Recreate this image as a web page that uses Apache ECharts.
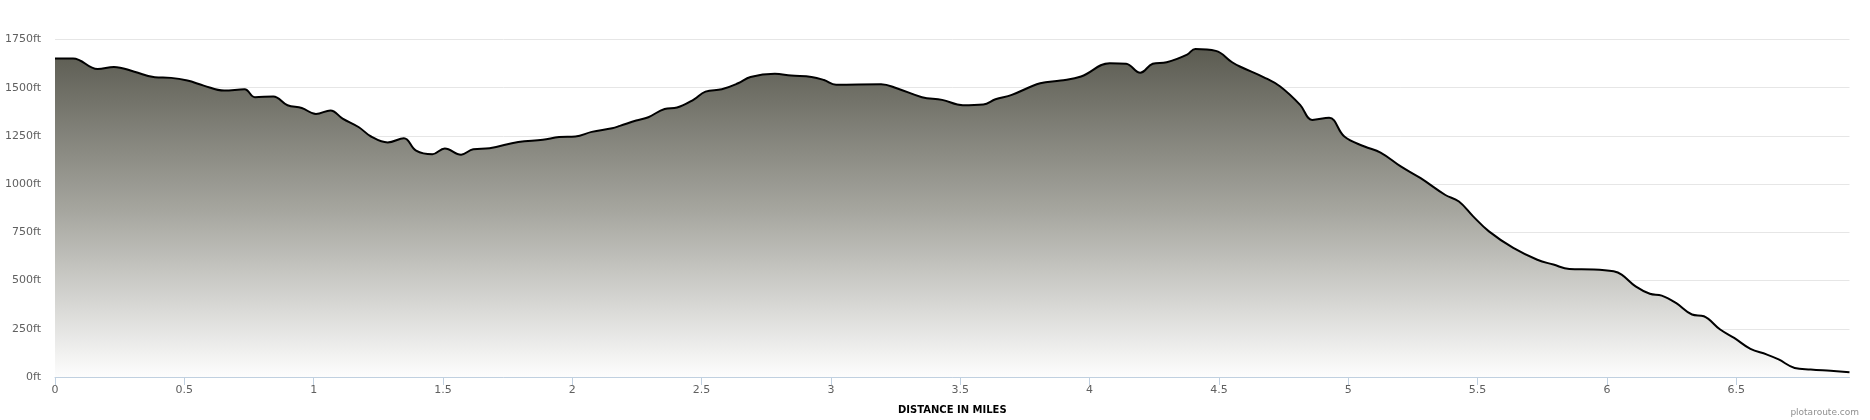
<!DOCTYPE html>
<html>
<head>
<meta charset="utf-8">
<script src="https://cdn.jsdelivr.net/npm/echarts@6/dist/echarts.min.js"></script>
<style>
html,body{margin:0;padding:0;background:#fff;}
#c{width:1870px;height:420px;}
</style>
</head>
<body>
<div id="c"></div>
<script>
var distances = [0.000,0.070,0.165,0.228,0.307,0.386,0.449,0.512,0.575,0.654,0.733,0.773,0.844,0.899,0.954,1.009,1.065,1.112,1.175,1.222,1.286,1.349,1.396,1.459,1.507,1.570,1.617,1.680,1.791,1.886,1.949,2.012,2.075,2.154,2.184,2.247,2.294,2.357,2.405,2.468,2.515,2.578,2.641,2.689,2.783,2.846,2.925,2.973,3.020,3.194,3.257,3.352,3.430,3.510,3.589,3.636,3.699,3.809,3.888,3.967,4.078,4.141,4.196,4.244,4.298,4.377,4.409,4.488,4.551,4.581,4.674,4.737,4.814,4.861,4.926,4.985,5.063,5.125,5.203,5.280,5.374,5.428,5.483,5.544,5.638,5.731,5.793,5.855,5.949,6.026,6.057,6.111,6.166,6.212,6.267,6.329,6.375,6.438,6.492,6.555,6.617,6.664,6.726,6.788,6.865,6.938];
var elevations = [1652,1652,1597,1608,1583,1554,1551,1537,1511,1485,1492,1451,1455,1409,1395,1364,1382,1340,1295,1247,1216,1238,1174,1155,1185,1153,1181,1186,1219,1230,1244,1247,1271,1290,1302,1330,1347,1390,1397,1437,1480,1492,1523,1556,1572,1563,1556,1540,1516,1518,1496,1451,1437,1409,1413,1440,1463,1523,1537,1558,1627,1624,1578,1624,1632,1672,1701,1691,1632,1610,1554,1506,1411,1333,1344,1247,1195,1164,1092,1031,945,910,833,755,669,608,583,560,558,548,531,470,432,422,384,324,315,246,203,146,117,91,47,39,32,25];
var xTicks = [0,0.5,1,1.5,2,2.5,3,3.5,4,4.5,5,5.5,6,6.5];
var yTicks = [0,250,500,750,1000,1250,1500,1750];
var xTitle = 'DISTANCE IN MILES';
var credit = 'plotaroute.com';

var points = distances.map(function(d,i){return [d, elevations[i]];});

var chart = echarts.init(document.getElementById('c'), null, {renderer:'canvas'});
chart.setOption({
  animation:false,
  backgroundColor:'#ffffff',
  grid:{left:55, right:20.5, top:39.5, bottom:42.5, containLabel:false},
  xAxis:{
    type:'value', min:0, max:distances[distances.length-1], interval:0.5,
    name:xTitle, nameLocation:'middle', nameGap:28,
    nameTextStyle:{fontFamily:'DejaVu Sans', fontSize:10, fontWeight:'bold', color:'#000'},
    axisLine:{show:true, lineStyle:{color:'#C0D0E0', width:1}},
    axisTick:{show:true, length:8, lineStyle:{color:'#C0D0E0'}, customValues:xTicks},
    axisLabel:{color:'#606060', fontFamily:'DejaVu Sans', fontSize:11, margin:8, customValues:xTicks},
    splitLine:{show:false}
  },
  yAxis:{
    type:'value', min:yTicks[0], max:yTicks[yTicks.length-1], interval:250,
    axisLine:{show:false}, axisTick:{show:false},
    axisLabel:{color:'#606060', fontFamily:'DejaVu Sans', fontSize:11, margin:14,
      formatter:function(v){return v+'ft';}},
    splitLine:{show:true, lineStyle:{color:'#e6e6e6', width:1}}
  },
  graphic:[{type:'text', right:11, bottom:3, style:{text:credit, fill:'#909090', font:'9px "DejaVu Sans"'}}],
  series:[{
    type:'line', data:points, smooth:0.4, showSymbol:false, symbol:'none',
    lineStyle:{color:'#000', width:2},
    areaStyle:{opacity:1, color:new echarts.graphic.LinearGradient(0,0,0,1,[
      {offset:0,color:'#5b5b51'},
      {offset:0.5,color:'#a7a7a0'},
      {offset:1,color:'#fdfdfd'}
    ])}
  }]
});
</script>
</body>
</html>
